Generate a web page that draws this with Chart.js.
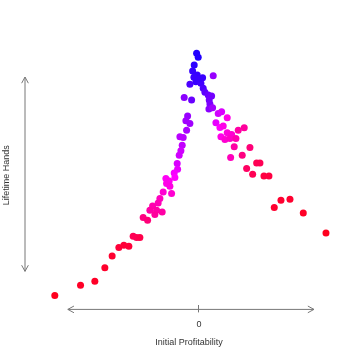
<!DOCTYPE html>
<html>
<head>
<meta charset="utf-8">
<script src="https://cdn.jsdelivr.net/npm/chart.js@4.4.0/dist/chart.umd.min.js"></script>
<style>
  body { margin: 0; background: #fff; }
  canvas { display: block; }
</style>
</head>
<body>
<canvas id="myChart" width="360" height="360"></canvas>
<script>
// initial profitability (x), lifetime hands (y), colour tone (0 = red, 1 = blue)
let xVals = [-2.3, -0.7, -4.7, -6.3, -1.7, -5, 3.7, 14.3, -9, -3, 2, 0, 4.3, 6, 9.3, 12.7, -14.7, -7.3, 10.3, 11,
    10, 13.7, 19.3, 22.7, 28.3, -11.3, -13, -9, 17, 21, 24.3, -12.3, 28.3, 32.7, 39.3, 45.3, 22, 26, 31, 37,
    -19, -15.7, -16.7, 35.3, 51, -18, -19.7, 31.7, 43.3, -21.7, -21.3, -24.7, -24, -33, -29.7, -32.3, -29, -35.7, -27.3, -39,
    -40.7, -46.3, -49, -42.3, -44, -36.7, -55.7, -51.3, -65.7, -62.3, -59, -80, -75, -70, -86.7, -94, -104, -118.3, -144,
    47.7, 57.7, 61, 53.7, 65, 70, 82, 91, 75.3, 104.3, 127];
let yVals = [251.7, 247.7, 240, 234, 230, 227.7, 227.3, 229.3, 220.7, 223.3, 221.7, 226, 216.7, 212.7, 210, 209, 207.7, 205, 205, 201,
    196, 197.3, 191.7, 193.3, 187.3, 189, 184.3, 181.7, 182.3, 177.7, 179, 175, 172.3, 170.7, 175, 177.3, 168.3, 165.7, 166.7, 166.7,
    168.3, 167.7, 160, 158.3, 157.7, 154.3, 150, 147.7, 150, 141.7, 136, 132.3, 127.7, 126.7, 124.3, 121.7, 119, 113.3, 111.7, 106.7,
    102.3, 99.3, 95, 95, 90.7, 93.3, 87.7, 85, 69, 67.7, 67.7, 57.7, 60, 59, 49.3, 37.7, 24, 20, 10,
    136.7, 142.3, 142.3, 131, 129.3, 129.3, 105, 106, 97.7, 92.3, 72.3];
let tones = [0.97, 0.97, 0.95, 0.93, 0.93, 0.92, 0.92, 0.72, 0.88, 0.92, 0.9, 0.92, 0.88, 0.85, 0.82, 0.8, 0.75, 0.82, 0.8, 0.78,
    0.75, 0.7, 0.6, 0.58, 0.45, 0.72, 0.7, 0.7, 0.55, 0.5, 0.45, 0.68, 0.42, 0.4, 0.3, 0.28, 0.45, 0.4, 0.38, 0.32,
    0.65, 0.65, 0.63, 0.3, 0.2, 0.6, 0.6, 0.35, 0.22, 0.58, 0.55, 0.52, 0.5, 0.48, 0.47, 0.45, 0.44, 0.4, 0.4, 0.36,
    0.34, 0.32, 0.3, 0.3, 0.28, 0.3, 0.22, 0.2, 0.12, 0.12, 0.1, 0.06, 0.06, 0.06, 0.04, 0.03, 0.02, 0.02, 0,
    0.15, 0.12, 0.12, 0.12, 0.08, 0.08, 0.04, 0.04, 0.04, 0.02, 0];
let xTicks = [0];
let xTitle = "Initial Profitability";
let yTitle = "Lifetime Hands";

let points = xVals.map((x, i) => ({ x: x, y: yVals[i] }));

// red -> magenta -> blue
function toneColor(t) {
    let r = Math.round(20 + 235 * Math.min(1, 2 * (1 - t)));
    let b = Math.round(30 + 225 * Math.min(1, 2 * t));
    return `rgb(${r},0,${b})`;
}

// double headed arrows for the two axes
function arrow(ctx, x1, y1, x2, y2) {
    let ang = Math.atan2(y2 - y1, x2 - x1);
    let len = 7, spread = 0.5;
    ctx.beginPath();
    ctx.moveTo(x1, y1);
    ctx.lineTo(x2, y2);
    [[x1, y1, ang], [x2, y2, ang + Math.PI]].forEach(([x, y, a]) => {
        ctx.moveTo(x + len * Math.cos(a - spread), y + len * Math.sin(a - spread));
        ctx.lineTo(x, y);
        ctx.lineTo(x + len * Math.cos(a + spread), y + len * Math.sin(a + spread));
    });
    ctx.stroke();
}

const axisArrows = {
    id: "axisArrows",
    afterDraw(chart) {
        let ctx = chart.ctx;
        let xs = chart.scales.x, ys = chart.scales.y;
        ctx.save();
        ctx.strokeStyle = "#777";
        ctx.lineWidth = 1;
        let yLine = chart.chartArea.bottom + 4;
        arrow(ctx, xs.getPixelForValue(-131), yLine, xs.getPixelForValue(115), yLine);
        let xLine = 25;
        arrow(ctx, xLine, ys.getPixelForValue(228), xLine, ys.getPixelForValue(34));
        ctx.restore();
    }
};

let config = {
    type: "scatter",
    data: {
        datasets: [{
            data: points,
            pointRadius: 3.5,
            pointHoverRadius: 3.5,
            borderWidth: 0,
            backgroundColor: ctx => toneColor(tones[ctx.dataIndex])
        }]
    },
    options: {
        responsive: false,
        animation: false,
        layout: { padding: { left: 0, right: 21, top: 45, bottom: 12 } },
        plugins: { legend: { display: false }, tooltip: { enabled: false } },
        scales: {
            x: {
                min: -160,
                max: 140,
                afterBuildTicks: axis => { axis.ticks = xTicks.map(v => ({ value: v })); },
                grid: { drawOnChartArea: false, color: "#777", tickLength: 7 },
                border: { display: false },
                ticks: { color: "#333", padding: 7, font: { size: 9, family: "Liberation Sans" } },
                title: {
                    display: true, text: xTitle, color: "#333",
                    padding: { top: 0, bottom: 0 },
                    font: { size: 9, family: "Liberation Sans" }
                }
            },
            y: {
                min: 0,
                max: 260,
                grid: { display: false, drawTicks: false },
                border: { display: false },
                ticks: { display: false },
                title: {
                    display: true, text: yTitle, color: "#333",
                    padding: { top: 1, bottom: 27 },
                    font: { size: 9, family: "Liberation Sans" }
                }
            }
        }
    },
    plugins: [axisArrows]
};

let myChart = new Chart("myChart", config);
</script>
</body>
</html>
